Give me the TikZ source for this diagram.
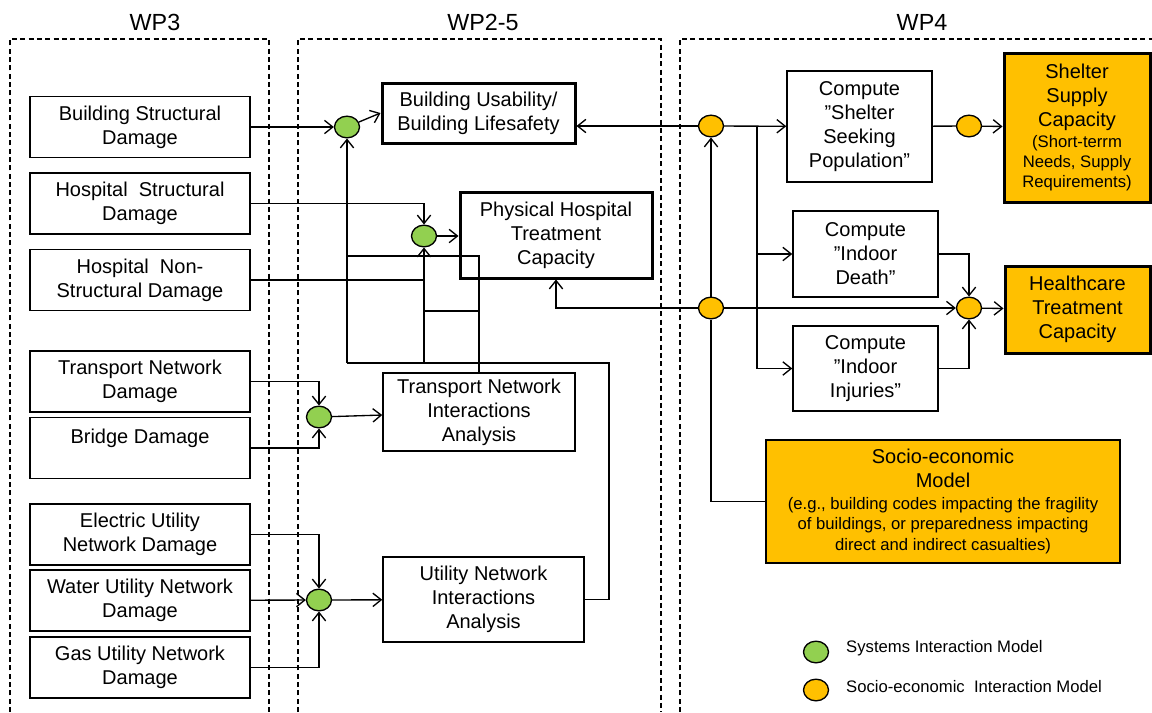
\documentclass[tikz,border=0pt]{standalone}
\usepackage{fontspec}
\setmainfont{Liberation Sans}
\usepackage{tikz}
\usetikzlibrary{shapes.geometric, arrows.meta, positioning}

\definecolor{sysgreen}{HTML}{92D050}
\definecolor{seorange}{HTML}{FFC000}
\newcommand{\smalltxt}{\fontsize{10}{12}\selectfont}

\begin{document}
\begin{tikzpicture}[x=0.6pt, y=-0.6pt, on grid, line width=0.8pt,
    font=\fontsize{12}{14.4}\selectfont,
    >={Straight Barb[length=5pt,width=8pt]},
    box/.style={draw, line width=0.9pt, align=center, inner sep=1pt},
    dmg/.style={box, minimum width=132pt, minimum height=36.6pt},
    main/.style={box, line width=1.8pt},
    sim/.style={ellipse, draw, fill=sysgreen, line width=0.8pt, inner sep=0pt,
                minimum width=15pt, minimum height=13pt},
    sem/.style={sim, fill=seorange},
    wp/.style={draw, dash pattern=on 3pt off 2pt, line width=0.8pt}]
\useasboundingbox (0,0) rectangle (1152,712);

% work packages
\draw [wp] (10,712) |- (269,39) -- (269,712);
\draw [wp] (298,712) |- (661,39) -- (661,712);
\draw [wp] (680,712) |- (1152,39);
\node [font=\fontsize{14}{16}\selectfont] at (155,22) (wp_3) {WP3};
\node [font=\fontsize{14}{16}\selectfont] at (483,22) (wp_25) {WP2-5};
\node [font=\fontsize{14}{16}\selectfont] at (922,22) (wp_4) {WP4};

% WP3 damage
\node [dmg] at (140,127) (d_bld) {Building Structural\\Damage};
\node [dmg] [below=45.9pt of d_bld] (d_hsp) {Hospital~ Structural\\Damage};
\node [dmg] [below=45.9pt of d_hsp] (d_hns) {Hospital~ Non-\\Structural Damage};
\node [dmg] at (140,381.5) (d_trn) {Transport Network\\Damage};
\node [dmg] [below=39.9pt of d_trn] (d_brg) {Bridge Damage\\\mbox{}};
\node [dmg] at (140,534.5) (d_ele) {Electric Utility\\Network Damage};
\node [dmg] [below=39.6pt of d_ele] (d_wat) {Water Utility Network\\Damage};
\node [dmg] [below=40.2pt of d_wat] (d_gas) {Gas Utility Network\\Damage};

% WP2-5
\node [main, minimum width=115.8pt, minimum height=36pt] at (478.5,113) (bu)
    {Building Usability/\\Building Lifesafety};
\node [main, minimum width=115.2pt, minimum height=51.6pt] at (556,235) (ph)
    {Physical Hospital\\Treatment\\Capacity};
\node [box, minimum width=115.2pt, minimum height=46.8pt] at (479,412) (tia)
    {Transport Network\\Interactions\\Analysis};
\node [box, minimum width=120.6pt, minimum height=51pt] at (483.5,599.5) (uia)
    {Utility Network\\Interactions\\Analysis};
\node [sim] at (347,127) (s_1) {};
\node [sim] at (424,236) (s_2) {};
\node [sim] at (319,417) (s_3) {};
\node [sim] at (319,600) (s_4) {};

% WP4
\node [box, minimum width=87pt, minimum height=66.6pt] at (859.5,126.5) (c_sh)
    {Compute\\”Shelter\\Seeking\\Population”};
\node [box, minimum width=87pt, minimum height=51.6pt] at (865.5,254) (c_de)
    {Compute\\”Indoor\\Death”};
\node [box, minimum width=87pt, minimum height=51pt] at (865.5,368.5) (c_in)
    {Compute\\”Indoor\\Injuries”};
\node [main, fill=seorange, minimum width=87.6pt, minimum height=89.4pt] at (1077,127.5) (ssc)
    {Shelter\\Supply\\Capacity\\[-1.4pt]\smalltxt (Short-terrm\\[-2.4pt]\smalltxt Needs, Supply\\[-2.4pt]%
     \smalltxt Requirements)};
\node [main, fill=seorange, minimum width=87pt, minimum height=52.2pt] at (1077.5,309.5) (htc)
    {Healthcare\\Treatment\\Capacity};
\node [box, fill=seorange, minimum width=212.4pt, minimum height=73.8pt] at (943,501.5) (sem)
    {Socio-economic\\Model\\[-1.4pt]\smalltxt (e.g., building codes impacting the fragility\\[-2.1pt]%
     \smalltxt of buildings, or preparedness impacting\\[-2.1pt]\smalltxt direct and indirect casualties)};
\node [sem] at (711,126) (e_1) {};
\node [sem] at (711,308) (e_2) {};
\node [sem] at (969,308) (e_3) {};
\node [sem] at (969,126) (e_4) {};

% legend
\node [sim] at (816,652) (l_s) {};
\node [sem] at (816,690) (l_e) {};
\node [anchor=west, font=\smalltxt] at (840,648) (l_st) {Systems Interaction Model};
\node [anchor=west, font=\smalltxt] at (840,687) (l_et) {Socio-economic~ Interaction Model};

% junctions
\coordinate (j_1) at (347,363);
\coordinate (j_2) at (609,363);
\coordinate (j_3) at (347,256);
\coordinate (j_4) at (479,311);
\coordinate (j_5) at (757,126);

% systems interactions
\draw [->] (d_bld) -- (s_1);
\draw [->] (s_1) -- (bu.west);
\draw [->] (d_hsp) -| (s_2);
\draw (d_hns) -- (d_hns -| s_2);
\draw [->] (s_2) -- (s_2 -| ph.west);
\draw [->] (d_trn) -| (s_3);
\draw [->] (d_brg) -| (s_3);
\draw [->] (s_3) -- (tia);
\draw [->] (d_ele) -| (s_4);
\draw [->] (d_wat) -- (s_4);
\draw [->] (d_gas) -| (s_4);
\draw [->] (s_4) -- (uia);
\draw (uia) -| (j_2) -- (j_1);
\draw [->] (j_1) -- (s_1);
\draw [->] (s_2 |- j_1) -- (s_2);
\draw (tia) |- (j_3);
\draw (j_4) -- (j_4 -| s_2);

% socio-economic interactions
\draw [->] (e_1) -- (e_1 -| bu.east);
\draw [->] (e_1) -- (c_sh);
\draw [->] (j_5) |- (c_de);
\draw [->] (j_5) |- (c_in);
\draw [->] (c_de) -| (e_3);
\draw [->] (c_in) -| (e_3);
\draw [->] (e_2) -- (e_3);
\draw [->] (e_2) -| (ph);
\draw (sem) -| (e_2);
\draw [->] (e_2) -- (e_1);
\draw (c_sh) -- (e_4);
\draw [->] (e_4) -- (ssc);
\draw [->] (e_3) -- (htc);
\end{tikzpicture}
\end{document}
